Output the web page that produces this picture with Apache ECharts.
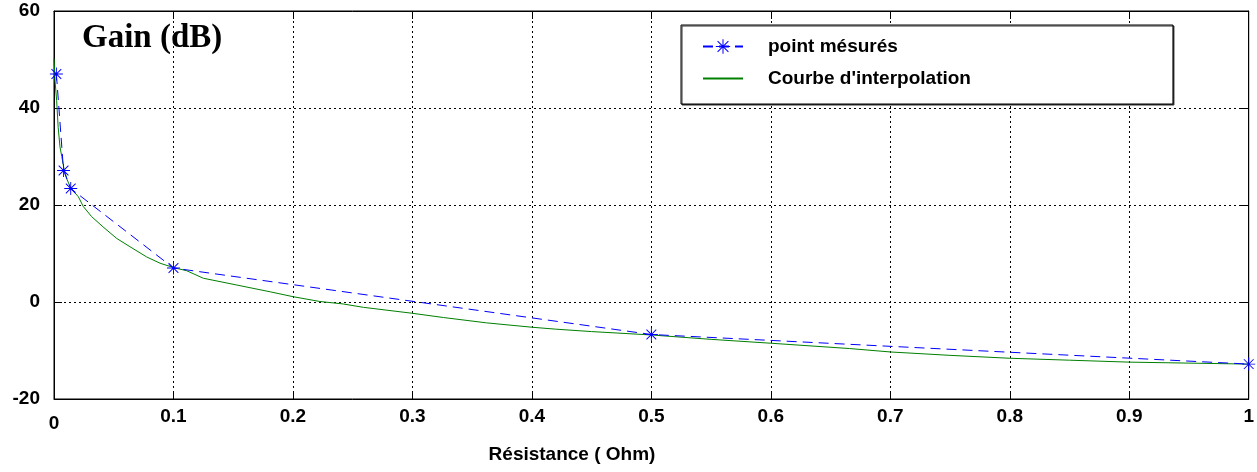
<!DOCTYPE html>
<html>
<head>
<meta charset="utf-8">
<script src="https://cdn.jsdelivr.net/npm/echarts@6/dist/echarts.min.js"></script>
<style>html,body{margin:0;padding:0;background:#fff}#c{width:1257px;height:472px}</style>
</head>
<body>
<div id="c"></div>
<script>
// Measured points
const measX = [0.002, 0.008, 0.014, 0.1, 0.5, 1.0];
const measY = [47, 27.1, 23.4, 7, -6.7, -12.8];
// Interpolation curve
const interpX = [0, 0.0008, 0.0022, 0.0035, 0.005, 0.0065, 0.0084, 0.011, 0.014, 0.0204, 0.0245, 0.0315, 0.041, 0.0525, 0.0636, 0.0775, 0.0887, 0.1, 0.111, 0.125, 0.153, 0.181, 0.2, 0.2226, 0.242, 0.259, 0.299, 0.326, 0.362, 0.4, 0.42, 0.45, 0.5, 0.55, 0.6, 0.666, 0.7, 0.75, 0.8, 0.85, 0.9, 0.95, 1.0];
const interpY = [50.2, 45.8, 41.6, 36, 32, 30, 27.4, 25.2, 23.5, 21.7, 19.7, 17.6, 15.5, 13.1, 11.4, 9.3, 8.0, 7.1, 6.45, 4.9, 3.5, 2.1, 1.1, 0.1, -0.4, -1.1, -2.3, -3.2, -4.3, -5.2, -5.6, -6.1, -6.8, -7.7, -8.5, -9.6, -10.3, -11.0, -11.6, -12.0, -12.4, -12.6, -12.8];
const seriesNames = ["point mésurés", "Courbe d'interpolation"];
const yTitle = "Gain (dB)";
const xTitle = "Résistance ( Ohm)";

const measData = measX.map((x, i) => [x, measY[i]]);
const interpData = interpX.map((x, i) => [x, interpY[i]]);

const star = 'path://M0 9.3H20V10.7H0Z M9.3 0H10.7V20H9.3Z M2 3L3 2L18 17L17 18Z M17 2L18 3L3 18L2 17Z';
const F = 'Liberation Sans, Arial, sans-serif';
const FS = 19;

const chart = echarts.init(document.getElementById('c'), null, {renderer: 'canvas'});
const grid = {left: 54, right: 8, top: 11, bottom: 73, show: true, borderColor: '#000', borderWidth: 1, backgroundColor: '#fff'};
const split = {show: true, lineStyle: {color: '#000', type: [2, 3], width: 1}};
chart.setOption({
  animation: false,
  backgroundColor: '#fff',
  grid: grid,
  xAxis: [{
    type: 'value', min: 0, max: 1, interval: 0.1,
    axisLine: {show: true, onZero: false, lineStyle: {color: '#000'}},
    axisTick: {show: true, inside: true, length: 8, lineStyle: {color: '#000'}},
    splitLine: split,
    axisLabel: {
      color: '#000', fontFamily: F, fontWeight: 'bold', fontSize: FS, margin: 8,
      formatter: v => v === 0 ? '{z|0}' : String(Math.round(v * 10) / 10),
      rich: {z: {fontFamily: F, fontWeight: 'bold', fontSize: FS, color: '#000', padding: [7, 0, 0, 0]}}
    }
  }, {
    type: 'value', min: 0, max: 1, interval: 0.1, position: 'top',
    axisLine: {show: true, onZero: false, lineStyle: {color: '#000'}},
    axisTick: {show: true, inside: true, length: 8, lineStyle: {color: '#000'}},
    axisLabel: {show: false}, splitLine: {show: false}
  }],
  yAxis: [{
    type: 'value', min: -20, max: 60, interval: 20,
    axisLine: {show: true, onZero: false, lineStyle: {color: '#000'}},
    axisTick: {show: true, inside: true, length: 8, lineStyle: {color: '#000'}},
    splitLine: split,
    axisLabel: {color: '#000', fontFamily: F, fontWeight: 'bold', fontSize: FS, margin: 14}
  }, {
    type: 'value', min: -20, max: 60, interval: 20, position: 'right',
    axisLine: {show: true, onZero: false, lineStyle: {color: '#000'}},
    axisTick: {show: true, inside: true, length: 8, lineStyle: {color: '#000'}},
    axisLabel: {show: false}, splitLine: {show: false}
  }],
  legend: {
    orient: 'vertical', left: 681, top: 25,
    padding: [12, 202, 16, 21],
    itemWidth: 40, itemHeight: 18, itemGap: 13,
    backgroundColor: '#fff', borderColor: '#000', borderWidth: 1,
    shadowColor: '#333', shadowOffsetX: 1, shadowOffsetY: 1, shadowBlur: 0,
    textStyle: {color: '#000', fontFamily: F, fontWeight: 'bold', fontSize: FS, padding: [0, 0, 0, 20]},
    data: seriesNames
  },
  graphic: [
    {type: 'text', left: 82, top: 22, z: 100,
     style: {text: yTitle, font: 'bold 33px "Liberation Serif", "Times New Roman", serif', fill: '#000'}},
    {type: 'text', x: 572, y: 455, z: 100,
     style: {text: xTitle, font: 'bold ' + FS + 'px "Liberation Sans", Arial, sans-serif', fill: '#000', textAlign: 'center', textVerticalAlign: 'middle'}}
  ],
  series: [
    {name: seriesNames[1], type: 'line', data: interpData, showSymbol: false, symbol: 'none',
     lineStyle: {color: '#008000', width: 1}, itemStyle: {color: '#008000', opacity: 0}, z: 2},
    {name: seriesNames[0], type: 'line', data: measData, symbol: star, symbolSize: 13,
     lineStyle: {color: '#0000ff', width: 1, type: [10, 6]}, itemStyle: {color: '#0000ff'}, z: 3}
  ]
});
</script>
</body>
</html>
